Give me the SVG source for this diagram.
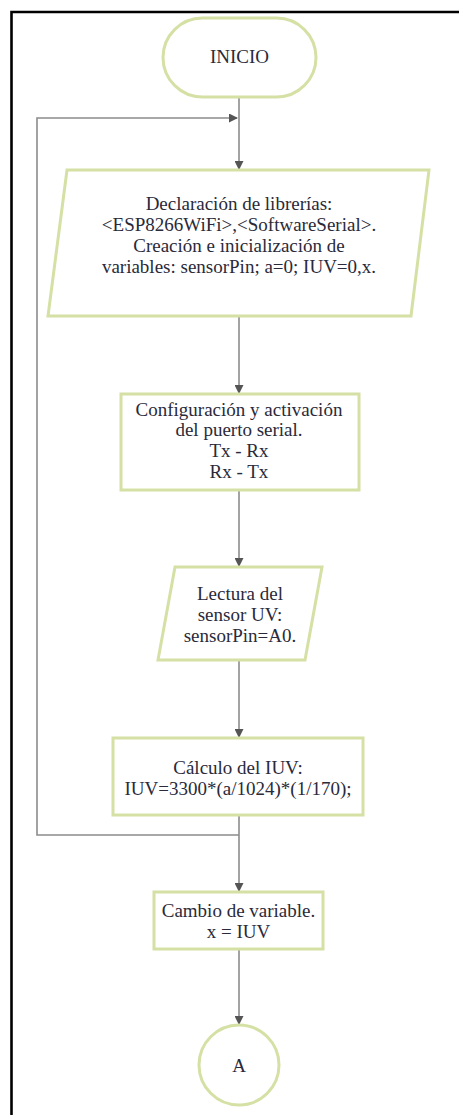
<svg xmlns="http://www.w3.org/2000/svg" width="459" height="1115" viewBox="0 0 459 1115">
  <defs>
    <marker id="arrow" markerWidth="9" markerHeight="9" refX="8" refY="4.5" orient="auto" markerUnits="userSpaceOnUse">
      <path d="M0,0 L9,4.5 L0,9 z" fill="#555"/>
    </marker>
    <style>
      .frame { fill: none; stroke: #000; stroke-width: 2.6; }
      .node { fill: #fff; stroke: #d5e0a5; stroke-width: 3; }
      .edge { fill: none; stroke: #8c8c8c; stroke-width: 1.6; }
      .label { font-family: "Liberation Serif", "Times New Roman", serif; font-size: 19px; fill: #2a2a3a; text-anchor: middle; }
    </style>
  </defs>

  <rect width="459" height="1115" fill="#fff"/>
  <!-- page frame -->
  <path class="frame" d="M11.5,1115 V12 H459"/>

  <!-- connectors -->
  <g id="connectors">
    <path class="edge" d="M239,97 V169" marker-end="url(#arrow)"/>
    <path class="edge" d="M239,835 H37 V118 H237" marker-end="url(#arrow)"/>
    <path class="edge" d="M239,316 V393" marker-end="url(#arrow)"/>
    <path class="edge" d="M239,490 V566" marker-end="url(#arrow)"/>
    <path class="edge" d="M239,660 V737" marker-end="url(#arrow)"/>
    <path class="edge" d="M239,815 V891" marker-end="url(#arrow)"/>
    <path class="edge" d="M239,949 V1024" marker-end="url(#arrow)"/>
  </g>

  <g id="inicio">
    <rect class="node" x="163" y="18" width="153" height="79" rx="39.5"/>
    <text class="label" x="239.5" y="63">INICIO</text>
  </g>

  <g id="declaracion">
    <polygon class="node" points="67,170 429,170 411,316 48,316"/>
    <text class="label" x="239" y="210">Declaración de librerías:</text>
    <text class="label" x="239" y="231">&lt;ESP8266WiFi&gt;,&lt;SoftwareSerial&gt;.</text>
    <text class="label" x="239" y="252">Creación e inicialización de</text>
    <text class="label" x="239" y="273">variables: sensorPin; a=0; IUV=0,x.</text>
  </g>

  <g id="configuracion">
    <rect class="node" x="121" y="394" width="238" height="96"/>
    <text class="label" x="239" y="416">Configuración y activación</text>
    <text class="label" x="239" y="436">del puerto serial.</text>
    <text class="label" x="239" y="457">Tx - Rx</text>
    <text class="label" x="239" y="478">Rx - Tx</text>
  </g>

  <g id="lectura">
    <polygon class="node" points="175,567 322,567 305,660 158,660"/>
    <text class="label" x="240" y="600">Lectura del</text>
    <text class="label" x="240" y="621">sensor UV:</text>
    <text class="label" x="240" y="642">sensorPin=A0.</text>
  </g>

  <g id="calculo">
    <rect class="node" x="113" y="738" width="250" height="77"/>
    <text class="label" x="238" y="774">Cálculo del IUV:</text>
    <text class="label" x="238" y="795">IUV=3300*(a/1024)*(1/170);</text>
  </g>

  <g id="cambio">
    <rect class="node" x="154" y="892" width="169" height="57"/>
    <text class="label" x="238.5" y="917">Cambio de variable.</text>
    <text class="label" x="238.5" y="938">x = IUV</text>
  </g>

  <g id="conector-a">
    <circle class="node" cx="239" cy="1065" r="40"/>
    <text class="label" x="239" y="1072">A</text>
  </g>
</svg>
